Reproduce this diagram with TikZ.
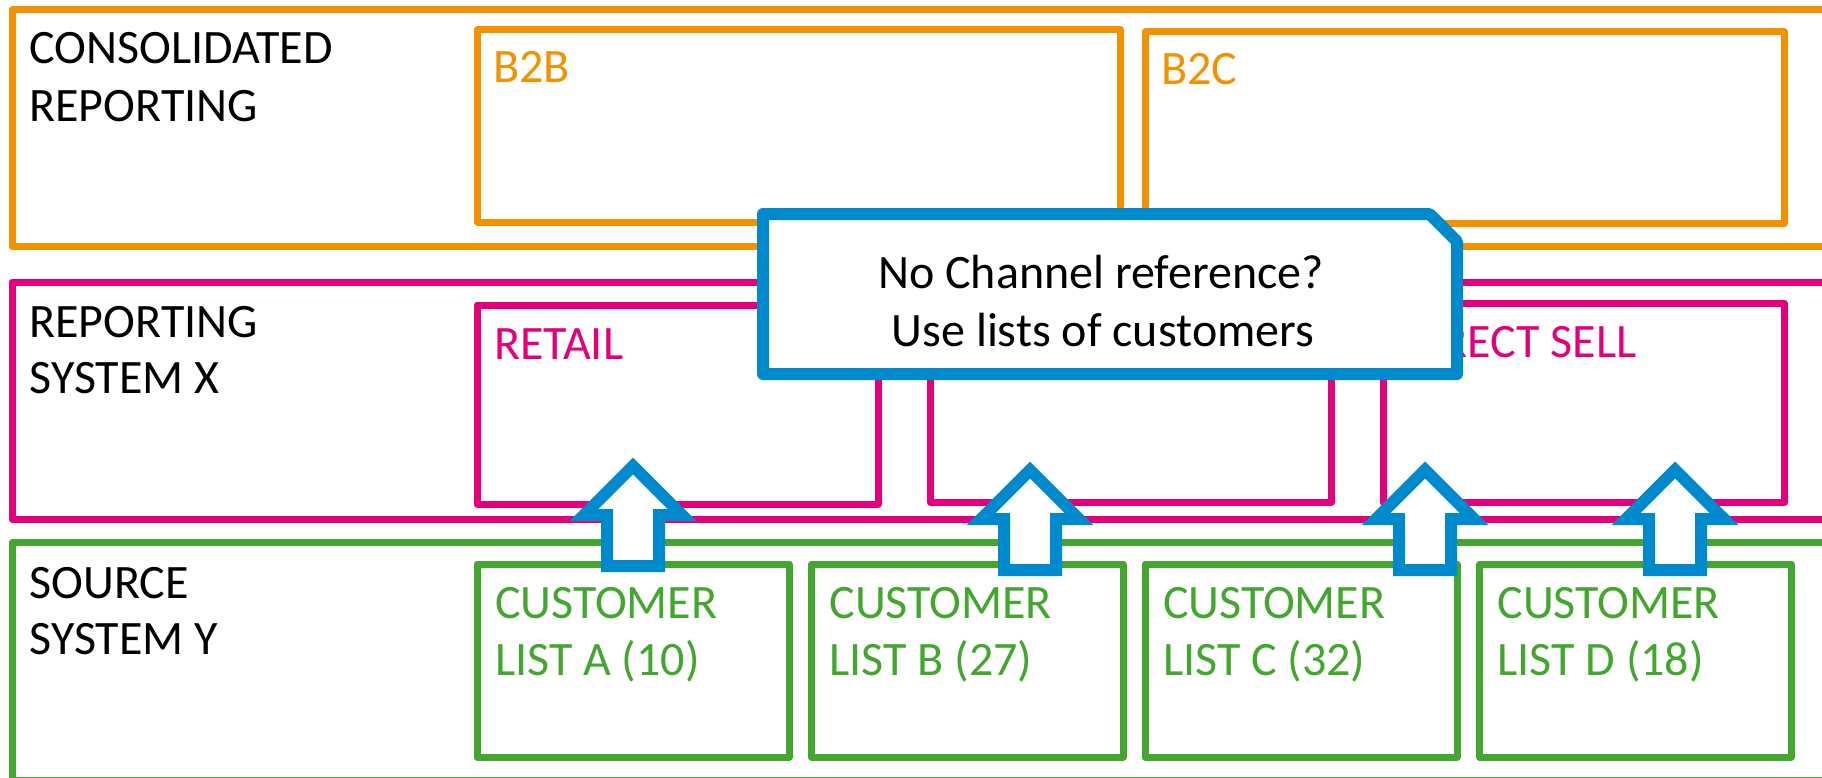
\documentclass[tikz,border=0pt]{standalone}
\usepackage{fontspec}
\setmainfont{Carlito}
\definecolor{corange}{RGB}{243,146,0}
\definecolor{cmag}{RGB}{228,0,124}
\definecolor{cgreen}{RGB}{67,166,46}
\definecolor{cblue}{RGB}{0,138,206}
\begin{document}
\begin{tikzpicture}[x=1pt,y=-1pt,
  frame/.style={draw=#1, line width=7pt, line join=round, inner sep=0pt, outer sep=0pt, anchor=north west},
  lab/.style={anchor=base west, inner sep=0pt, outer sep=0pt, font=\fontsize{48}{57}\selectfont, text=#1},
  clab/.style={anchor=base, inner sep=0pt, outer sep=0pt, font=\fontsize{48}{57}\selectfont, text=black},
  uparrow/.style={draw=cblue, fill=white, line width=12pt, line join=miter},
  callout/.style={draw=cblue, fill=white, line width=12pt, line join=round}
]
\useasboundingbox (0,0) rectangle (1822,778);
\clip (0,0) rectangle (1822,778);
\fill[white] (0,0) rectangle (1822,778);

% layer frames
\node[frame=corange, minimum width=1818pt, minimum height=236.5pt] (cons) at (12,10) {};
\node[frame=cmag, minimum width=1818pt, minimum height=237.5pt] (repx) at (12,282) {};
\node[frame=cgreen, minimum width=1818pt, minimum height=237.5pt] (srcy) at (12,542.5) {};

% consolidated reporting boxes
\node[frame=corange, minimum width=643pt, minimum height=192pt] (b2b) at (477,30) {};
\node[frame=corange, minimum width=639pt, minimum height=191pt] (b2c) at (1145,32) {};

% reporting system boxes
\node[frame=cmag, minimum width=401pt, minimum height=199pt] (retail) at (477,305) {};
\node[frame=cmag, minimum width=400.5pt, minimum height=198.5pt] (middle) at (930.5,304) {};
\node[frame=cmag, minimum width=401pt, minimum height=199.5pt] (direct) at (1383,303) {};

% source system boxes
\node[frame=cgreen, minimum width=312pt, minimum height=193pt] (lista) at (477,564) {};
\node[frame=cgreen, minimum width=311.5pt, minimum height=193pt] (listb) at (811.5,564) {};
\node[frame=cgreen, minimum width=312pt, minimum height=193pt] (listc) at (1145,564) {};
\node[frame=cgreen, minimum width=311.5pt, minimum height=193pt] (listd) at (1479.5,564) {};

% layer labels
\node[lab=black] (consa) at (29.5,64) {CONSOLIDATED};
\node[lab=black] (consb) at (29.5,121.5) {REPORTING};
\node[lab=black] (repxa) at (29.5,337) {REPORTING};
\node[lab=black] (repxb) at (29.5,393.5) {SYSTEM X};
\node[lab=black] (srcya) at (29.5,598) {SOURCE};
\node[lab=black] (srcyb) at (29.5,654.5) {SYSTEM Y};

% box labels
\node[lab=corange] (b2bt) at (493,83) {B2B};
\node[lab=corange] (b2ct) at (1161,85) {B2C};
\node[lab=cmag] (retailt) at (494,359) {RETAIL};
\node[lab=cmag] (directt) at (1400,357) {DIRECT SELL};

\node[lab=cgreen] (listaa) at (495,618) {CUSTOMER};
\node[lab=cgreen] (listab) at (495,675) {LIST A (10)};
\node[lab=cgreen] (listba) at (829.5,618) {CUSTOMER};
\node[lab=cgreen] (listbb) at (829.5,675) {LIST B (27)};
\node[lab=cgreen] (listca) at (1163,618) {CUSTOMER};
\node[lab=cgreen] (listcb) at (1163,675) {LIST C (32)};
\node[lab=cgreen] (listda) at (1497.5,618) {CUSTOMER};
\node[lab=cgreen] (listdb) at (1497.5,675) {LIST D (18)};

% block arrows
\draw[uparrow] (633,466) -- ++(49,49) -- ++(-23,0) -- ++(0,51) -- ++(-52,0) -- ++(0,-51) -- ++(-23,0) -- cycle;
\draw[uparrow] (1030,470) -- ++(49,49) -- ++(-23,0) -- ++(0,51) -- ++(-52,0) -- ++(0,-51) -- ++(-23,0) -- cycle;
\draw[uparrow] (1425,470) -- ++(49,49) -- ++(-23,0) -- ++(0,51) -- ++(-52,0) -- ++(0,-51) -- ++(-23,0) -- cycle;
\draw[uparrow] (1675,470) -- ++(49,49) -- ++(-23,0) -- ++(0,51) -- ++(-52,0) -- ++(0,-51) -- ++(-23,0) -- cycle;

% callout
\draw[callout] (763,214) -- (1429.5,214) -- (1457,241.5) -- (1457,374) -- (763,374) -- cycle;
\node[clab] (calla) at (1101,288) {No Channel reference?};
\node[clab] (callb) at (1103,346) {Use lists of customers};
\end{tikzpicture}
\end{document}
